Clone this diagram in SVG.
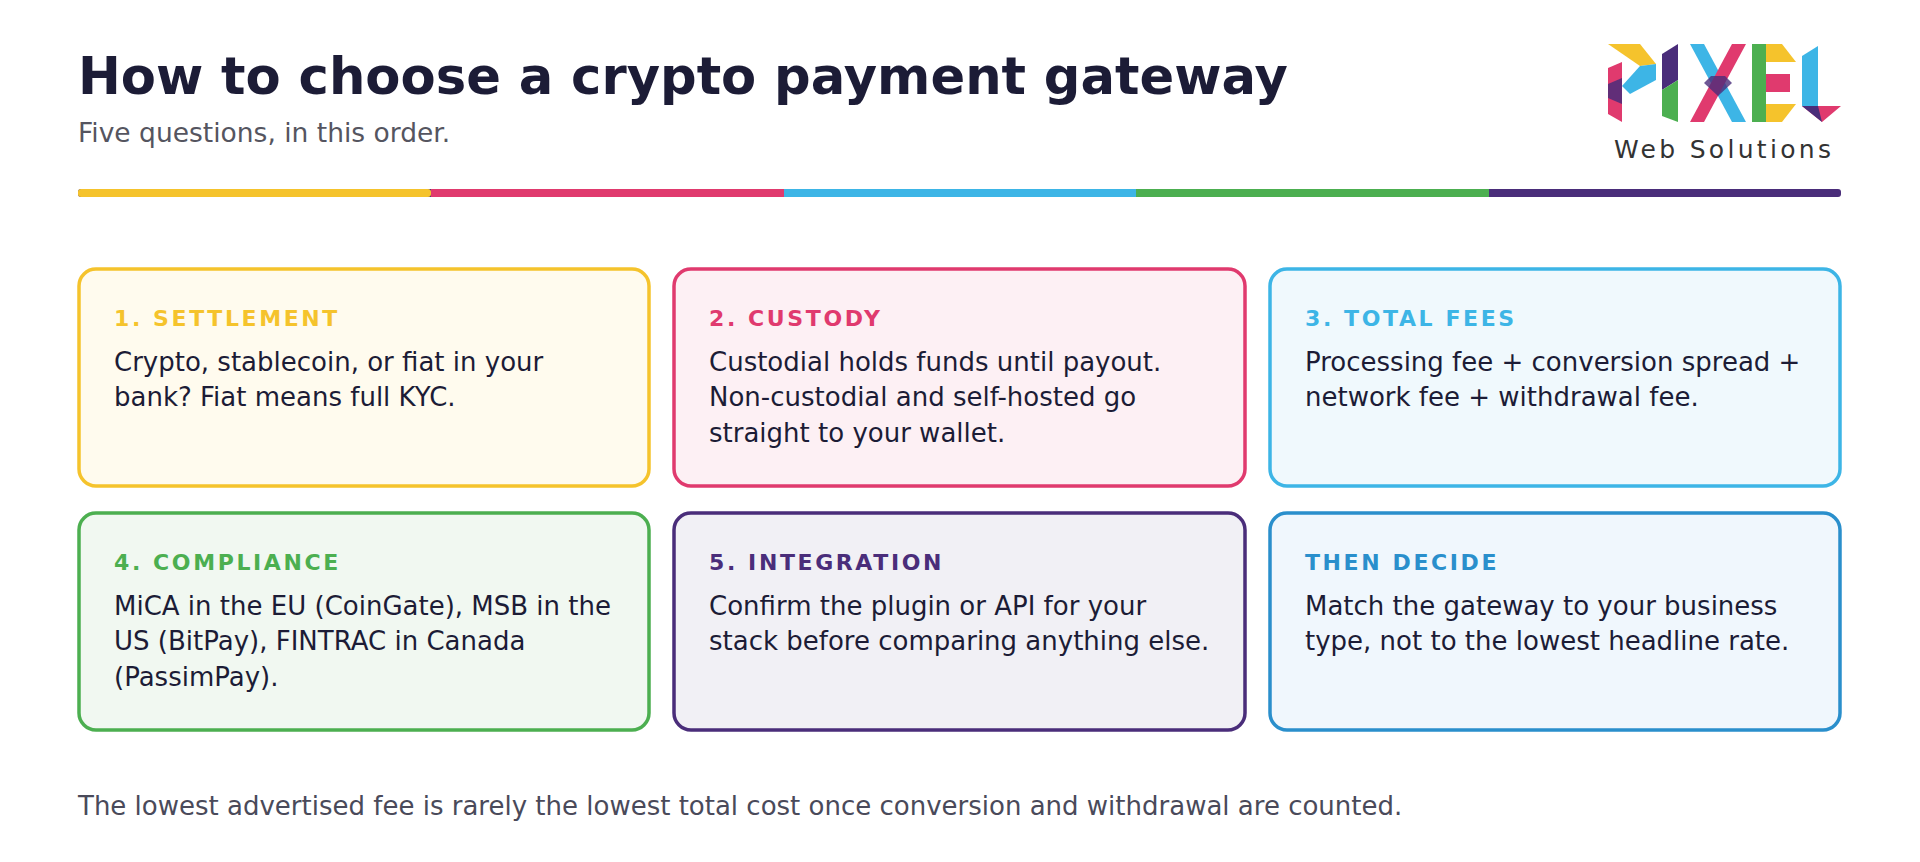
<svg xmlns="http://www.w3.org/2000/svg" width="1920" height="862" viewBox="0 0 1920 862">
<style>
.t{font-family:"DejaVu Sans",sans-serif}
.card{stroke-width:3.5}
.h{font-family:"DejaVu Sans",sans-serif;font-weight:bold;font-size:22px;letter-spacing:2.6px}
.b{font-family:"DejaVu Sans",sans-serif;font-size:26px;fill:#1c1c36}
</style>
<rect width="1920" height="862" fill="#fff"/>
<text class="t" x="78" y="94" font-size="51.2" font-weight="bold" fill="#1c1c36">How to choose a crypto payment gateway</text>
<text class="t" x="78" y="142" font-size="26.5" fill="#555560">Five questions, in this order.</text>
<g id="logo">
<polygon points="1608,44 1640,44 1656,64 1640,66" fill="#f5c32c"/>
<polygon points="1640,66 1656,64 1656,80 1630,94 1622,86" fill="#3db5e6"/>
<polygon points="1608,68 1622,62 1622,122 1608,114" fill="#e03a6e"/>
<polygon points="1608,84 1622,78 1622,104 1608,98" fill="#4a2d7a" opacity="0.85"/>
<polygon points="1662,54 1678,44 1678,80 1662,90" fill="#4a2d7a"/>
<polygon points="1662,90 1678,80 1678,122 1662,116" fill="#4caf50"/>
<polygon points="1690,44 1704,44 1746,122 1732,122" fill="#3db5e6"/>
<polygon points="1732,44 1746,44 1704,122 1690,122" fill="#e03a6e"/>
<polygon points="1711,76 1725,76 1732,83 1718,96 1704,83" fill="#4a2d7a" opacity="0.8"/>
<polygon points="1752,44 1766,44 1766,122 1752,122" fill="#4caf50"/>
<polygon points="1766,44 1782,44 1796,62 1766,62" fill="#f5c32c"/>
<polygon points="1766,74 1790,74 1790,92 1766,92" fill="#e03a6e"/>
<polygon points="1766,104 1796,104 1782,122 1766,122" fill="#f5c32c"/>
<polygon points="1802,56 1818,46 1818,106 1802,106" fill="#3db5e6"/>
<polygon points="1802,106 1841,106 1822,122" fill="#e03a6e"/>
<polygon points="1802,106 1818,106 1822,122" fill="#4a2d7a"/>
<text class="t" x="1614" y="158" font-size="25" letter-spacing="3.3" fill="#333">Web Solutions</text>
</g>
<g id="bar">
<rect x="78" y="189" width="1763" height="8" rx="3" fill="#4a2d7a"/>
<rect x="78" y="189" width="353" height="8" rx="3" fill="#f5c32c"/>
<rect x="431" y="189" width="353" height="8" fill="#e03a6e"/>
<rect x="784" y="189" width="352" height="8" fill="#3db5e6"/>
<rect x="1136" y="189" width="353" height="8" fill="#4caf50"/>
</g>
<g id="card1">
<rect class="card" x="79" y="269" width="570" height="217" rx="17" fill="#fffbee" stroke="#f5c32c"/>
<text class="h" x="114" y="326" fill="#f5c32c">1. SETTLEMENT</text>
<text class="b" x="114" y="371">Crypto, stablecoin, or fiat in your</text>
<text class="b" x="114" y="406">bank? Fiat means full KYC.</text>
</g>
<g id="card2">
<rect class="card" x="674" y="269" width="571" height="217" rx="17" fill="#fdf0f4" stroke="#e03a6e"/>
<text class="h" x="709" y="326" fill="#e03a6e">2. CUSTODY</text>
<text class="b" x="709" y="371">Custodial holds funds until payout.</text>
<text class="b" x="709" y="406">Non-custodial and self-hosted go</text>
<text class="b" x="709" y="442">straight to your wallet.</text>
</g>
<g id="card3">
<rect class="card" x="1270" y="269" width="570" height="217" rx="17" fill="#f0f9fd" stroke="#3db5e6"/>
<text class="h" x="1305" y="326" fill="#3db5e6">3. TOTAL FEES</text>
<text class="b" x="1305" y="371">Processing fee + conversion spread +</text>
<text class="b" x="1305" y="406">network fee + withdrawal fee.</text>
</g>
<g id="card4">
<rect class="card" x="79" y="513" width="570" height="217" rx="17" fill="#f1f8f1" stroke="#4caf50"/>
<text class="h" x="114" y="570" fill="#4caf50">4. COMPLIANCE</text>
<text class="b" x="114" y="615">MiCA in the EU (CoinGate), MSB in the</text>
<text class="b" x="114" y="650">US (BitPay), FINTRAC in Canada</text>
<text class="b" x="114" y="686">(PassimPay).</text>
</g>
<g id="card5">
<rect class="card" x="674" y="513" width="571" height="217" rx="17" fill="#f1f0f5" stroke="#4a2d7a"/>
<text class="h" x="709" y="570" fill="#4a2d7a">5. INTEGRATION</text>
<text class="b" x="709" y="615">Confirm the plugin or API for your</text>
<text class="b" x="709" y="650">stack before comparing anything else.</text>
</g>
<g id="card6">
<rect class="card" x="1270" y="513" width="570" height="217" rx="17" fill="#f0f7fd" stroke="#2a8fcc"/>
<text class="h" x="1305" y="570" fill="#2a8fcc">THEN DECIDE</text>
<text class="b" x="1305" y="615">Match the gateway to your business</text>
<text class="b" x="1305" y="650">type, not to the lowest headline rate.</text>
</g>
<g id="connectors"/>
<text class="t" x="78" y="815" font-size="26" fill="#4a4a5a">The lowest advertised fee is rarely the lowest total cost once conversion and withdrawal are counted.</text>
</svg>
